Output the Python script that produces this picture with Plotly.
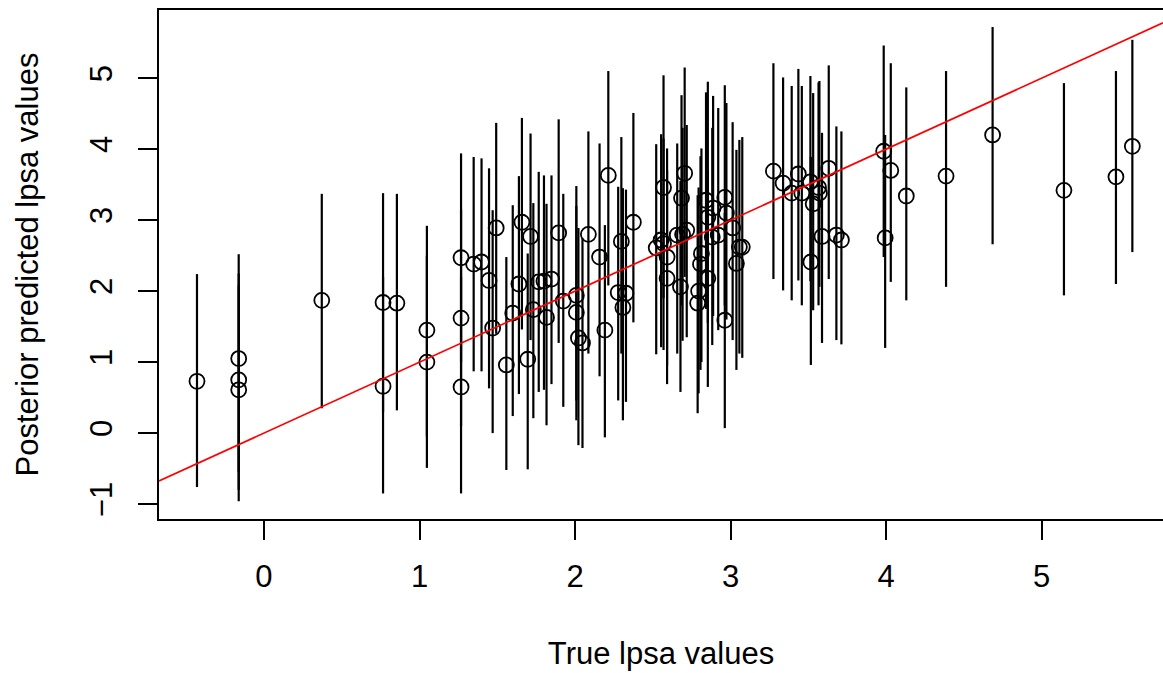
import plotly.graph_objects as go

# true lpsa values (x) and posterior predictive mean + 95% interval
lpsa = [
    -0.4307829, -0.1625189, -0.1625189, -0.1625189, 0.3715636, 0.7654678, 0.7654678,
    0.8544153, 1.0473190, 1.0473190, 1.2669476, 1.2669476, 1.2669476, 1.3480731,
    1.3987169, 1.4469190, 1.4701758, 1.4929041, 1.5581446, 1.5993876, 1.6389967,
    1.6582281, 1.6956156, 1.7137979, 1.7316555, 1.7664417, 1.8000583, 1.8164520,
    1.8484548, 1.8946169, 1.9242487, 2.0082140, 2.0082140, 2.0215476, 2.0476928,
    2.0856721, 2.1575593, 2.1916535, 2.2137539, 2.2772673, 2.2975726, 2.3075726,
    2.3272777, 2.3749058, 2.5217206, 2.5533438, 2.5687881, 2.5687881, 2.5915164,
    2.5915164, 2.6567569, 2.6775910, 2.6844403, 2.6912431, 2.7047113, 2.7180005,
    2.7880929, 2.7942279, 2.8063861, 2.8124102, 2.8419982, 2.8535925, 2.8535925,
    2.8820035, 2.8875901, 2.9204698, 2.9626924, 2.9626924, 2.9729753, 3.0130809,
    3.0373539, 3.0563569, 3.0750055, 3.2752562, 3.3375474, 3.3928291, 3.4355988,
    3.4578927, 3.5130369, 3.5160131, 3.5307626, 3.5652984, 3.5709402, 3.5876769,
    3.6309855, 3.6800909, 3.7123518, 3.9843437, 3.9936030, 4.0298060, 4.1295508,
    4.3851468, 4.6844434, 5.1431245, 5.4775090, 5.5829322,
]

pred_mean = [
    0.73, 1.05, 0.75, 0.61, 1.87, 1.84, 0.66, 1.83, 1.45, 1.00, 2.47, 1.62, 0.65, 2.38,
    2.41, 2.15, 1.48, 2.89, 0.96, 1.69, 2.10, 2.97, 1.04, 2.77, 1.74, 2.13, 2.14, 1.63,
    2.17, 2.82, 1.86, 1.94, 1.70, 1.34, 1.27, 2.80, 2.48, 1.45, 3.63, 1.98, 2.70, 1.77,
    1.97, 2.97, 2.61, 2.72, 3.46, 2.67, 2.48, 2.18, 2.79, 2.06, 3.31, 2.80, 3.66, 2.86,
    1.83, 2.00, 2.38, 2.53, 3.28, 3.04, 2.18, 2.76, 3.17, 2.79, 3.32, 1.59, 3.10, 2.89,
    2.39, 2.62, 2.62, 3.69, 3.52, 3.38, 3.65, 3.38, 3.54, 2.41, 3.23, 3.46, 3.38, 2.77,
    3.73, 2.79, 2.72, 3.97, 2.75, 3.70, 3.34, 3.62, 4.20, 3.42, 3.61, 4.04,
]

pred_lo = [
    -0.76, -0.55, -0.96, -0.80, 0.35, 0.30, -0.85, 0.32, -0.05, -0.49, 1.00, 0.10, -0.85, 0.87,
    0.87, 0.63, 0.00, 1.40, -0.52, 0.24, 0.55, 1.46, -0.51, 1.31, 0.21, 0.58, 0.61, 0.11,
    0.69, 1.27, 0.37, 0.46, 0.18, -0.17, -0.21, 1.12, 0.80, -0.06, 2.08, 0.46, 1.12, 0.18,
    0.44, 1.56, 1.11, 1.21, 1.90, 1.17, 0.95, 0.69, 1.12, 0.58, 1.80, 1.30, 2.20, 1.35,
    0.28, 0.56, 0.89, 1.00, 1.75, 1.55, 0.65, 1.24, 1.65, 1.45, 1.80, 0.07, 1.60, 1.31,
    0.89, 1.12, 1.06, 2.17, 2.01, 1.87, 2.15, 1.80, 2.14, 0.96, 1.73, 1.80, 2.06, 1.27,
    2.17, 1.31, 1.25, 2.48, 1.20, 2.13, 1.87, 2.06, 2.66, 1.94, 2.10, 2.55,
]

pred_hi = [
    2.24, 2.52, 2.25, 2.08, 3.37, 3.38, 2.20, 3.37, 2.92, 2.50, 3.94, 3.15, 2.20, 3.89,
    3.87, 3.73, 3.14, 4.37, 2.48, 3.21, 3.62, 4.44, 2.53, 4.22, 3.24, 3.68, 3.63, 3.23,
    3.63, 4.42, 3.37, 3.48, 3.20, 2.89, 2.75, 4.25, 4.08, 2.93, 5.10, 3.47, 4.17, 3.45,
    3.43, 4.51, 4.07, 4.21, 5.04, 4.15, 4.01, 3.70, 4.08, 3.55, 4.76, 4.30, 5.15, 4.34,
    3.35, 3.46, 3.90, 4.01, 4.80, 4.95, 3.70, 4.30, 4.75, 4.58, 4.90, 3.10, 4.65, 4.38,
    3.99, 4.13, 4.17, 5.21, 5.01, 4.89, 5.13, 4.89, 5.03, 3.89, 4.79, 4.94, 4.96, 4.23,
    5.18, 4.32, 4.25, 5.46, 4.20, 5.21, 4.87, 5.10, 5.72, 4.93, 5.10, 5.54,
]

x_ticks = [0, 1, 2, 3, 4, 5]
y_ticks = [-1, 0, 1, 2, 3, 4, 5]
x_range = [-0.675, 5.78]
y_range = [-1.21, 5.96]

FONT = "Liberation Sans, Arial, Helvetica, sans-serif"
FS = 31

err_plus = [h - m for h, m in zip(pred_hi, pred_mean)]
err_minus = [m - l for m, l in zip(pred_mean, pred_lo)]

fig = go.Figure()

# intervals (vertical segments, no caps)
fig.add_trace(go.Scatter(
    x=lpsa, y=pred_mean, mode="markers",
    marker=dict(size=1, color="rgba(0,0,0,0)"),
    error_y=dict(type="data", symmetric=False, array=err_plus, arrayminus=err_minus,
                 width=0, thickness=2.2, color="black"),
    showlegend=False, hoverinfo="skip",
))

# posterior means as open circles
fig.add_trace(go.Scatter(
    x=lpsa, y=pred_mean, mode="markers",
    marker=dict(symbol="circle-open", size=15, color="black", line=dict(width=1.8)),
    showlegend=False,
))

# y = x reference line
fig.add_trace(go.Scatter(
    x=x_range, y=x_range, mode="lines",
    line=dict(color="red", width=1.7),
    showlegend=False, hoverinfo="skip",
))

fig.update_layout(
    width=1163, height=673,
    margin=dict(l=159, r=0, t=10, b=154),
    paper_bgcolor="white", plot_bgcolor="white",
    font=dict(family=FONT, size=FS, color="black"),
)

fig.update_xaxes(
    range=x_range, tickvals=x_ticks, ticktext=[str(t) for t in x_ticks],
    automargin=False,
    showgrid=False, zeroline=False,
    showline=True, linecolor="black", linewidth=1.5, mirror=True,
    ticks="outside", ticklen=19, tickwidth=1.5, tickcolor="black",
    tickfont=dict(size=FS), ticklabelstandoff=10,
    title=dict(text="True lpsa values", standoff=49, font=dict(size=FS)),
)
fig.update_yaxes(
    range=y_range, tickvals=y_ticks, ticktext=["\u22121" if t < 0 else str(t) for t in y_ticks],
    tickangle=-90, automargin=False,
    showgrid=False, zeroline=False,
    showline=True, linecolor="black", linewidth=1.5,
    ticks="outside", ticklen=19, tickwidth=1.5, tickcolor="black",
    tickfont=dict(size=FS), ticklabelstandoff=14,
    title=dict(text="Posterior predicted lpsa values", standoff=36, font=dict(size=FS)),
)

# drop the default page margin so the 1163x673 figure fills the window exactly
fig.write_html("out.html", config={"displayModeBar": False},
               post_script="document.body.style.margin='0';")
